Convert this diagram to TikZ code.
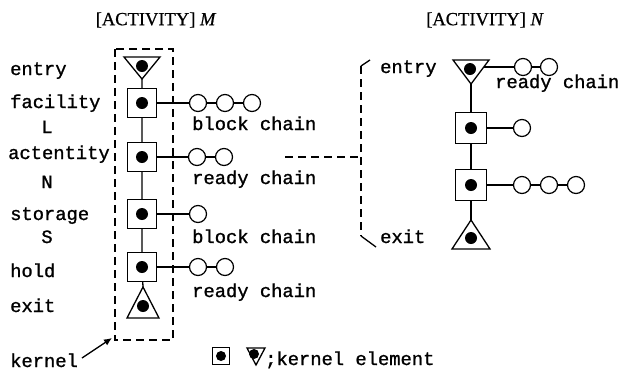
\documentclass[tikz,border=0pt]{standalone}
\usepackage{fontspec}
\setmonofont[FakeBold=1.2]{Liberation Mono}
\newfontfamily\titlefont[FakeBold=0.8]{Liberation Serif}
\usetikzlibrary{arrows.meta}
\begin{document}
\begin{tikzpicture}[x=1pt,y=-1pt,
  lbl/.style={font=\ttfamily\fontsize{18.8}{20}\selectfont, anchor=base west, inner sep=0},
  clbl/.style={font=\ttfamily\fontsize{18.8}{20}\selectfont, anchor=base, inner sep=0},
  ttl/.style={font=\titlefont\fontsize{18.5}{20}\selectfont, inner sep=0},
  wire/.style={line width=1.3pt},
  kbox/.style={draw, line width=1.4pt, minimum size=#1, inner sep=0,
    path picture={\fill (path picture bounding box.center) circle (6pt);}},
  kbox/.default=29pt,
  link/.style={draw, circle, line width=1.2pt, minimum size=17pt, inner sep=0},
  kdash/.style={line width=1.4pt, dash pattern=on 8pt off 5pt},
  dot/.style={fill=black}]
\useasboundingbox (0,0) rectangle (635,373);

% titles
\node[ttl] (tM) at (156,20) {[ACTIVITY] \textit{M}};
\node[ttl] (tN) at (485,20) {[ACTIVITY] \textit{N}};

% left labels
\node[lbl] (lEntry) at (10,75) {entry};
\node[lbl] (lFac) at (10,108) {facility};
\node[clbl] (lL) at (47,133) {L};
\node[lbl] (lAct) at (8,159) {actentity};
\node[clbl] (lN) at (47,188) {N};
\node[lbl] (lSto) at (10,220) {storage};
\node[clbl] (lS) at (47,243) {S};
\node[lbl] (lHold) at (10,277) {hold};
\node[lbl] (lExit) at (10,312) {exit};
\node[lbl] (lKernel) at (10,367) {kernel};

% kernel dashed box
\draw[kdash] (115,49) rectangle (173,340);
\coordinate (kcorner) at (112,338);
\coordinate (ka) at (82,358);
\draw[wire,-{Latex[length=8pt,width=7pt]}] (ka) -- (kcorner);

% left column: entry triangle
\draw[wire] (124,57) -- (160,57) -- (142,79) coordinate (eMapex) -- cycle;
\fill[dot] (142,66) circle (6pt);
% squares
\node[kbox] (sF) at (142,103) {};
\node[kbox] (sA) at (142,157) {};
\node[kbox] (sS) at (142,214) {};
\node[kbox] (sH) at (142,267) {};
% exit triangle
\draw[wire] (143,287) coordinate (xMtop) -- (159,318) -- (127,318) -- cycle;
\fill[dot] (143,306) circle (6pt);

\draw[wire] (eMapex) -- (sF) -- (sA) -- (sS) -- (sH) -- (xMtop);

% left chains
\node[link] (f1) at (198,103) {};
\node[link] (f2) at (225,103) {};
\node[link] (f3) at (252,103) {};
\draw[wire] (sF) -- (f1) -- (f2) -- (f3);
\node[link] (a1) at (197,157) {};
\node[link] (a2) at (224,157) {};
\draw[wire] (sA) -- (a1) -- (a2);
\node[link] (s1) at (198,214) {};
\draw[wire] (sS) -- (s1);
\node[link] (h1) at (198,267) {};
\node[link] (h2) at (225,267) {};
\draw[wire] (sH) -- (h1) -- (h2);

\node[lbl] (cF) at (192,130) {block chain};
\node[lbl] (cA) at (192,184) {ready chain};
\node[lbl] (cS) at (192,243) {block chain};
\node[lbl] (cH) at (192,297) {ready chain};

% dashed link to activity N
\coordinate (dstart) at (285,157);
\coordinate (dend) at (361,157);
\draw[kdash] (dstart) -- (dend);
\draw[kdash] (361,66) -- (361,236);
\draw[wire] (361,66) -- (370,60);
\draw[wire] (361,236) -- (376,247);

\node[lbl] (rEntry) at (380,73) {entry};
\node[lbl] (rExit) at (380,243) {exit};

% right column
\draw[wire] (453,60) -- (489,60) -- (471,84) coordinate (eNapex) -- cycle;
\fill[dot] (470,69) circle (6pt);
\coordinate (eNright) at (484,67);
\node[kbox=31pt] (r1) at (471,128) {};
\node[kbox=31pt] (r2) at (471,185) {};
\draw[wire] (471,220) coordinate (xNtop) -- (490,249) -- (452,249) -- cycle;
\fill[dot] (471,238) circle (6pt);
\draw[wire] (eNapex) -- (r1) -- (r2) -- (xNtop);

\node[link] (n1) at (523,67) {};
\node[link] (n2) at (549,67) {};
\draw[wire] (eNright) -- (n1) -- (n2);
\node[link] (m1) at (522,128) {};
\draw[wire] (r1) -- (m1);
\node[link] (p1) at (522,185) {};
\node[link] (p2) at (549,185) {};
\node[link] (p3) at (576,185) {};
\draw[wire] (r2) -- (p1) -- (p2) -- (p3);
\node[lbl] (cN) at (495,88) {ready chain};

% legend
\node[kbox=17pt, path picture={\fill (path picture bounding box.center) circle (5pt);}] (legSq) at (221,356) {};
\draw[wire] (247,348) -- (265,348) -- (256,365) coordinate (legApex) -- cycle;
\fill[dot] (254,354) circle (5pt);
\node[lbl] (legT) at (265,365) {;kernel element};
\end{tikzpicture}
\end{document}
